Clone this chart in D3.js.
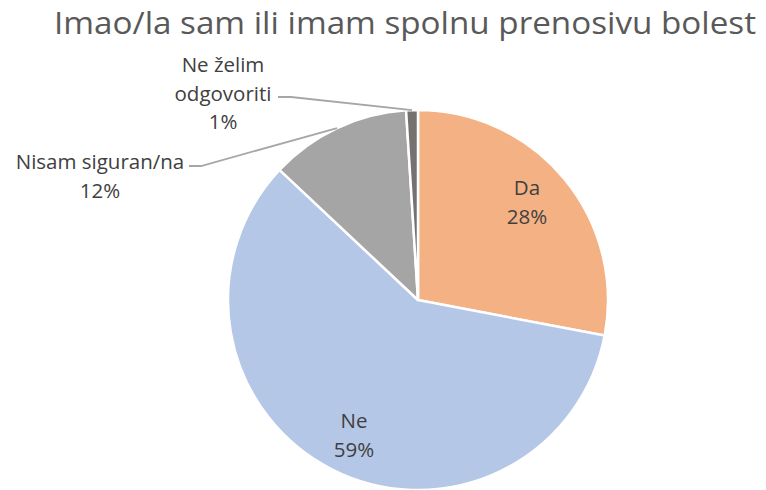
<!DOCTYPE html>
<html>
<head>
<meta charset="utf-8">
<script src="https://cdn.jsdelivr.net/npm/d3@7"></script>
<style>
  body { margin: 0; background: #fff; }
  svg { display: block; font-family: "Open Sans", sans-serif; }
</style>
</head>
<body>
<svg id="chart"></svg>
<script>
// data
var title = "Imao/la sam ili imam spolnu prenosivu bolest";
var categories = ["Da", "Ne", "Nisam siguran/na", "Ne želim odgovoriti"];
var values = [28, 59, 12, 1];
var colors = ["#F4B183", "#B4C7E7", "#A5A5A5", "#767171"];

var width = 766, height = 490;
var cx = 418, cy = 300, radius = 190;

var svg = d3.select("#chart")
  .attr("width", width)
  .attr("height", height)
  .attr("viewBox", [0, 0, width, height]);

svg.append("text")
  .attr("x", 405)
  .attr("y", 34)
  .attr("text-anchor", "middle")
  .attr("fill", "#595959")
  .attr("font-size", 31)
  .attr("textLength", 702)
  .attr("lengthAdjust", "spacingAndGlyphs")
  .text(title);

var pie = d3.pie().sort(null).value(d => d);
var arcs = pie(values);
var arc = d3.arc().innerRadius(0).outerRadius(radius);

var g = svg.append("g").attr("transform", `translate(${cx},${cy})`);

g.selectAll("path")
  .data(arcs)
  .join("path")
  .attr("d", arc)
  .attr("fill", (d, i) => colors[i])
  .attr("stroke", "#fff")
  .attr("stroke-width", 2.5)
  .attr("stroke-linejoin", "round");

// label layout: inside for big slices, outside with leader lines for small ones
var labels = [
  { lines: ["Da", ""], x: 527, y: 195 },
  { lines: ["Ne", ""], x: 354, y: 428 },
  { lines: ["Nisam siguran/na", ""], x: 100, y: 169, lead: [189, 201], ly: 166 },
  { lines: ["Ne želim", "odgovoriti", ""], x: 223, y: 72, lead: [278, 291], ly: 97 }
];
labels.forEach((l, i) => {
  l.lines[l.lines.length - 1] = d3.format(".0%")(values[i] / d3.sum(values));
});

var outer = d3.arc().innerRadius(radius).outerRadius(radius);

labels.forEach((l, i) => {
  if (l.lead) {
    var p = outer.centroid(arcs[i]);
    svg.append("polyline")
      .attr("points", [[l.lead[0], l.ly], [l.lead[1], l.ly], [cx + p[0], cy + p[1]]].join(" "))
      .attr("fill", "none")
      .attr("stroke", "#A6A6A6")
      .attr("stroke-width", 1.8);
  }
  var t = svg.append("text")
    .attr("text-anchor", "middle")
    .attr("fill", "#404040")
    .attr("font-size", 20.5);
  l.lines.forEach((s, k) => {
    t.append("tspan")
      .attr("x", l.x)
      .attr("y", l.y + k * 28.5)
      .text(s);
  });
});
</script>
</body>
</html>
